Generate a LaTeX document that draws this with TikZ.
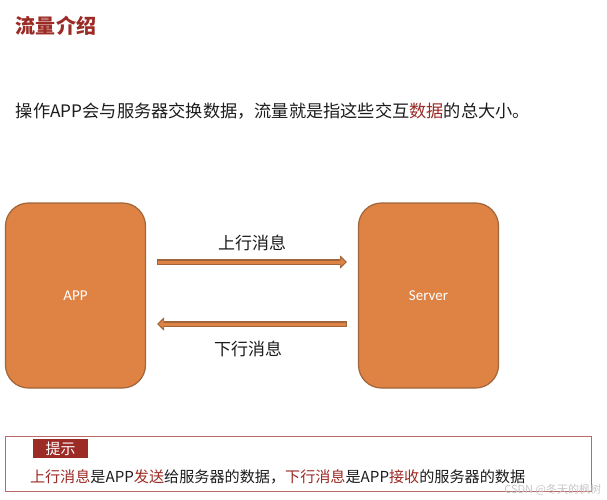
\documentclass[tikz,border=0pt]{standalone}
\usepackage{fontspec}
\setmainfont{Noto Sans CJK SC}
\newfontfamily\latinbox{Carlito}
\usetikzlibrary{arrows.meta}
\definecolor{boxfill}{HTML}{DF8344}
\definecolor{boxedge}{HTML}{A0653A}
\definecolor{darkred}{HTML}{9C2A25}
\definecolor{ink}{HTML}{1C1C1C}
\newcommand{\hl}[1]{\textcolor{darkred}{#1}}
\tikzset{
  x=1pt,y=-1pt,
  plain/.style={inner sep=0pt,outer sep=0pt,text=ink},
  device/.style={draw=boxedge,line width=1.2pt,fill=boxfill,rounded corners=23pt,
    minimum width=140pt,minimum height=185pt,inner sep=0pt,text=white,font=\latinbox\fontsize{15}{18}\selectfont},
  flowedge/.style={line width=6.5pt,draw=boxedge,-{Triangle[length=7pt,width=13pt,fill=boxedge]}},
  flowcore/.style={line width=3pt,draw=boxfill,shorten >=1.5pt,shorten <=1pt,-{Triangle[length=5pt,width=8pt,fill=boxfill]}}
}
\begin{document}
\begin{tikzpicture}
\useasboundingbox (0,0) rectangle (607,500);
\fill[white] (0,0) rectangle (607,500);
\node[plain,anchor=west,font=\fontsize{20}{24}\selectfont\bfseries,text=darkred] (title) at (16,26) {流量介绍};
\node[plain,anchor=west,font=\fontsize{17.2}{20}\selectfont] (intro) at (16,111) {操作APP会与服务器交换数据，流量就是指这些交互\hl{数据}的总大小。};
\node[device] (app) at (75.5,295.5) {APP};
\node[device] (server) at (428.5,295.5) {Server};
\coordinate (u1) at (157,262);
\coordinate (u2) at (347,262);
\coordinate (d1) at (347,324);
\coordinate (d2) at (157,324);
\draw[flowedge] (u1) -- (u2);
\draw[flowcore] (u1) -- (u2);
\draw[flowedge] (d1) -- (d2);
\draw[flowcore] (d1) -- (d2);
\node[plain,font=\fontsize{17}{20}\selectfont] (uplabel) at (252,243) {上行消息};
\node[plain,font=\fontsize{17}{20}\selectfont] (downlabel) at (248,349) {下行消息};
\node[draw=darkred!70,line width=1pt,minimum width=586pt,minimum height=55pt,anchor=north west,inner sep=0pt] (tipbox) at (5,436) {};
\node[fill=darkred,text=white,minimum width=55pt,minimum height=19pt,inner sep=0pt,anchor=north west,font=\fontsize{15}{18}\selectfont] (tiptag) at (33,439) {提示};
\node[plain,anchor=west,font=\fontsize{15.12}{18}\selectfont] (tiptext) at (30,477) {\hl{上行消息}是APP\hl{发送}给服务器的数据，\hl{下行消息}是APP\hl{接收}的服务器的数据};
\node[plain,anchor=east,text=black!22,font=\fontsize{11}{13}\selectfont] (mark) at (601,490) {CSDN @冬天的枫树};
\end{tikzpicture}
\end{document}
